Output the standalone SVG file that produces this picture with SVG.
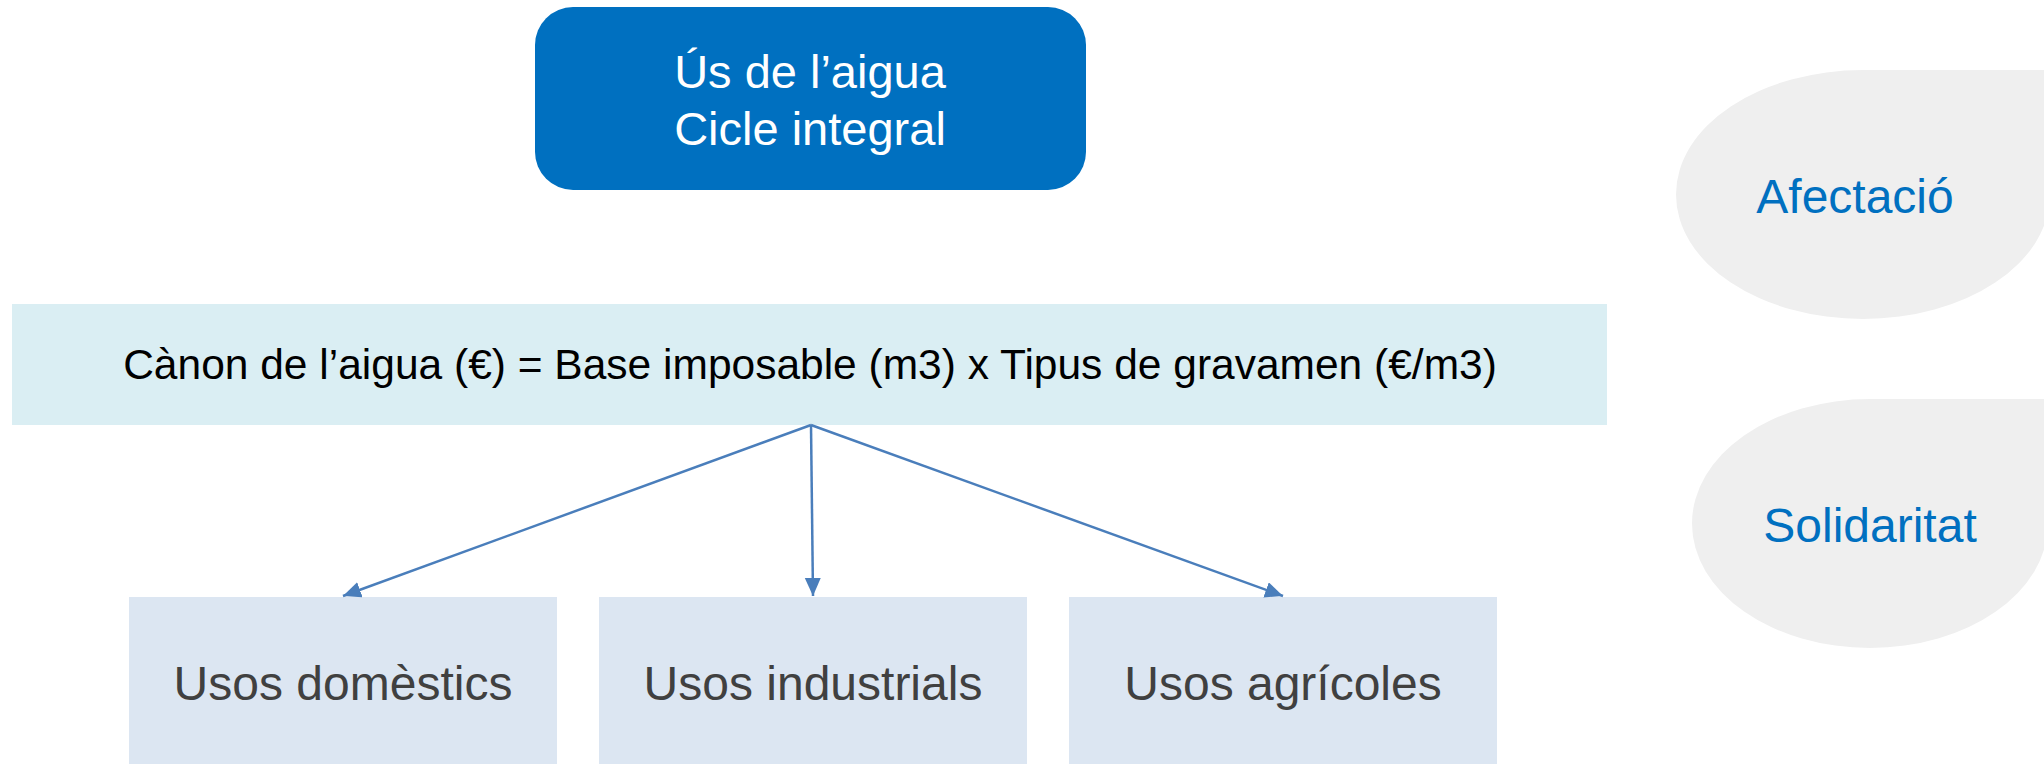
<svg xmlns="http://www.w3.org/2000/svg" width="2044" height="764" viewBox="0 0 2044 764">
<style>
.t{font-family:"Liberation Sans",Arial,sans-serif;}
.conn{stroke:#4A7EBB;stroke-width:2.5;fill:none;marker-end:url(#ah);}
.use{fill:#DCE6F2;}
.uset{font-size:48px;fill:#404040;text-anchor:middle;}
.drop{fill:#EFEFEF;}
.dropt{font-size:48px;fill:#0070C0;text-anchor:middle;}
</style>
<defs>
<marker id="ah" markerUnits="userSpaceOnUse" markerWidth="20" markerHeight="18" refX="18" refY="8" orient="auto">
<path d="M0,0 L18,8 L0,16 Z" fill="#4A7EBB"/>
</marker>
</defs>
<rect width="2044" height="764" fill="#FFFFFF"/>
<g id="node-us">
<rect x="535" y="7" width="551" height="183" rx="38" ry="38" fill="#0070C0"/>
<text class="t" x="810" y="88" font-size="47" fill="#FFFFFF" text-anchor="middle">Ús de l’aigua</text>
<text class="t" x="810" y="145" font-size="47" fill="#FFFFFF" text-anchor="middle">Cicle integral</text>
</g>
<g id="node-canon">
<rect x="12" y="304" width="1595" height="121" fill="#DAEEF3"/>
<text class="t" x="810" y="379" font-size="42.5" fill="#000000" text-anchor="middle">Cànon de l’aigua (€) = Base imposable (m3) x Tipus de gravamen (€/m3)</text>
</g>
<g id="node-domestics">
<rect class="use" x="129" y="597" width="428" height="180"/>
<text class="t uset" x="343" y="700">Usos domèstics</text>
</g>
<g id="node-industrials">
<rect class="use" x="599" y="597" width="428" height="180"/>
<text class="t uset" x="813" y="700">Usos industrials</text>
</g>
<g id="node-agricoles">
<rect class="use" x="1069" y="597" width="428" height="180"/>
<text class="t uset" x="1283" y="700">Usos agrícoles</text>
</g>
<g id="node-afectacio">
<path class="drop" d="M1676,194.5 A187,124.5 0 0 1 1863,70 L2050,70 L2050,194.5 A187,124.5 0 0 1 1863,319 A187,124.5 0 0 1 1676,194.5 Z"/>
<text class="t dropt" x="1855" y="213">Afectació</text>
</g>
<g id="node-solidaritat">
<path class="drop" d="M1692,523.5 A178,124.5 0 0 1 1870,399 L2048,399 L2048,523.5 A178,124.5 0 0 1 1870,648 A178,124.5 0 0 1 1692,523.5 Z"/>
<text class="t dropt" x="1870" y="542">Solidaritat</text>
</g>
<g id="connectors">
<line class="conn" x1="811" y1="425" x2="343" y2="596"/>
<line class="conn" x1="811" y1="425" x2="813" y2="596"/>
<line class="conn" x1="811" y1="425" x2="1283" y2="596"/>
</g>
</svg>
